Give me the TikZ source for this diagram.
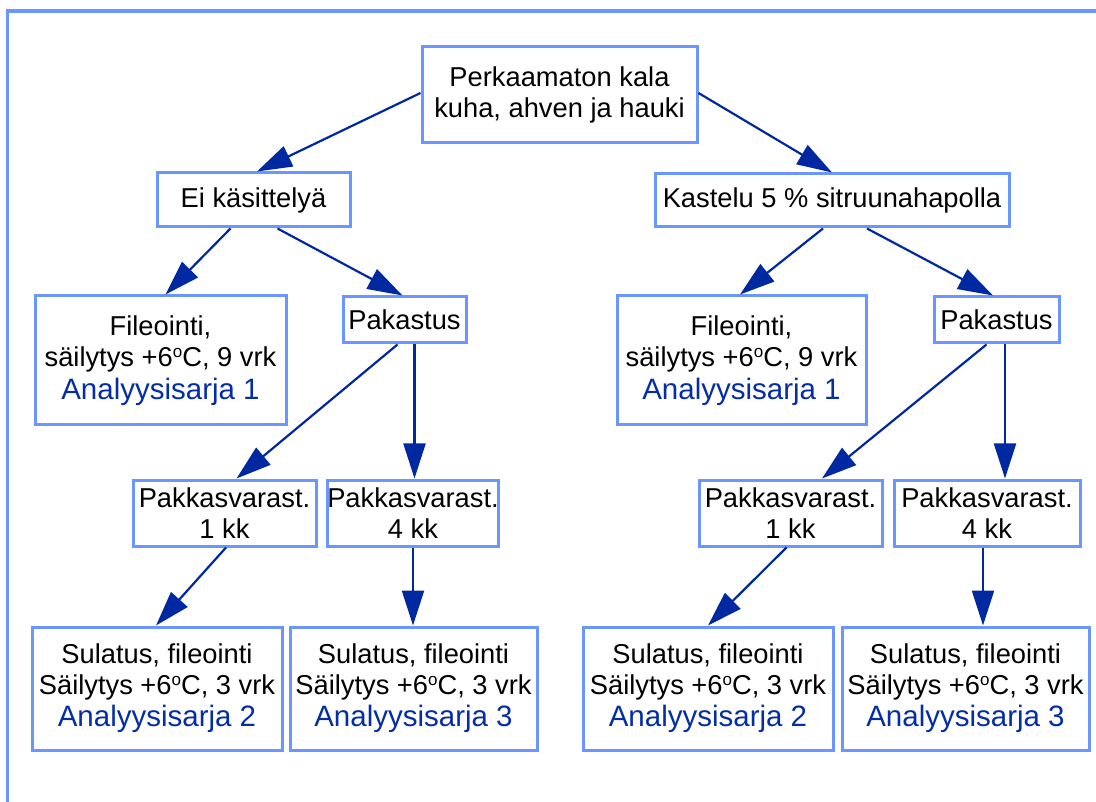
\documentclass[tikz,border=0pt]{standalone}
\usepackage{fontspec}
\setmainfont{Liberation Sans}
\usetikzlibrary{arrows.meta,calc}
\definecolor{boxc}{RGB}{108,150,255}
\definecolor{framec}{RGB}{108,150,255}
\definecolor{arrc}{RGB}{0,40,160}
\definecolor{anac}{RGB}{5,45,165}
\newcommand{\ana}[1]{{\color{anac}\fontsize{29.5}{31}\selectfont #1}}
\newcommand{\supo}{\raisebox{0.62ex}{\fontsize{17}{17}\selectfont o}}
\begin{document}
\begin{tikzpicture}[x=1pt,y=-1pt,
  bx/.style={draw=boxc,line width=3pt,fill=white,rectangle,inner sep=0pt,align=center,
    font=\fontsize{27.3}{31}\selectfont},
  arr/.style={draw=arrc,line width=2.2pt,-{Triangle[length=35pt,width=22pt]}}]
\useasboundingbox (0,0) rectangle (1096,802);
\draw[framec,line width=3.5pt] (1096,11) -| (7.5,802);
% nodes
\node[bx,minimum width=275pt,minimum height=96pt] (top) at (559.5,95) {Perkaamaton kala\\kuha, ahven ja hauki};
\node[bx,minimum width=193pt,minimum height=54pt] (ei) at (253.5,200) {Ei käsittelyä};
\node[bx,minimum width=354pt,minimum height=53pt] (kas) at (832,200.5) {Kastelu 5 \% sitruunahapolla};
\node[bx,minimum width=251pt,minimum height=129pt] (filL) at (160.5,360.5) {Fileointi,\\säilytys +6\supo C, 9 vrk\\[2pt]\ana{Analyysisarja 1}};
\node[bx,minimum width=123pt,minimum height=46pt] (pakL) at (404.5,320) {Pakastus};
\node[bx,minimum width=249pt,minimum height=129pt] (filR) at (741.5,360.5) {Fileointi,\\säilytys +6\supo C, 9 vrk\\[2pt]\ana{Analyysisarja 1}};
\node[bx,minimum width=125pt,minimum height=46pt] (pakR) at (996.5,320) {Pakastus};
\node[bx,minimum width=183pt,minimum height=66pt] (pv1L) at (224.5,513) {Pakkasvarast.\\1 kk};
\node[bx,minimum width=166pt,minimum height=66pt] (pv4L) at (413,513) {Pakkasvarast.\\4 kk};
\node[bx,minimum width=183pt,minimum height=66pt] (pv1R) at (790.5,513) {Pakkasvarast.\\1 kk};
\node[bx,minimum width=186pt,minimum height=66pt] (pv4R) at (987,513) {Pakkasvarast.\\4 kk};
\node[bx,minimum width=250pt,minimum height=123pt] (suL2) at (157,688.5) {Sulatus, fileointi\\Säilytys +6\supo C, 3 vrk\\[1pt]\ana{Analyysisarja 2}};
\node[bx,minimum width=247pt,minimum height=123pt] (suL3) at (413.5,688.5) {Sulatus, fileointi\\Säilytys +6\supo C, 3 vrk\\[1pt]\ana{Analyysisarja 3}};
\node[bx,minimum width=250pt,minimum height=123pt] (suR2) at (708,688.5) {Sulatus, fileointi\\Säilytys +6\supo C, 3 vrk\\[1pt]\ana{Analyysisarja 2}};
\node[bx,minimum width=247pt,minimum height=123pt] (suR3) at (965.5,688.5) {Sulatus, fileointi\\Säilytys +6\supo C, 3 vrk\\[1pt]\ana{Analyysisarja 3}};
% connectors
\draw[arr] ($(top.west)+(0,-2)$) -- ($(ei.north)+(3.5,0)$);
\draw[arr] ($(top.east)+(0,-2)$) -- (kas.north);
\draw[arr] ($(ei.south)+(-23,0)$) -- ($(filL.north)+(5,0)$);
\draw[arr] ($(ei.south)+(24,0)$) -- ($(pakL.north)+(-2,0)$);
\draw[arr] ($(kas.south)+(-9,0)$) -- ($(filR.north)+(-1.5,0)$);
\draw[arr] ($(kas.south)+(35,0)$) -- ($(pakR.north)+(-3.5,0)$);
\draw[arr] ($(pakL.south)+(-7,0)$) -- ($(pv1L.north)+(12,0)$);
\draw[arr] ($(pakL.south)+(10,0)$) -- ($(pv4L.north)+(1.5,0)$);
\draw[arr] ($(pakR.south)+(-10,0)$) -- ($(pv1R.north)+(31.5,0)$);
\draw[arr] ($(pakR.south)+(8.5,0)$) -- ($(pv4R.north)+(18,0)$);
\draw[arr] ($(pv1L.south)+(1.5,0)$) -- ($(suL2.north)+(-1,0)$);
\draw[arr] (pv4L.south) -- ($(suL3.north)+(-0.5,0)$);
\draw[arr] ($(pv1R.south)+(-4,0)$) -- (suR2.north);
\draw[arr] ($(pv4R.south)+(-4,0)$) -- ($(suR3.north)+(17.5,0)$);
\end{tikzpicture}
\end{document}
